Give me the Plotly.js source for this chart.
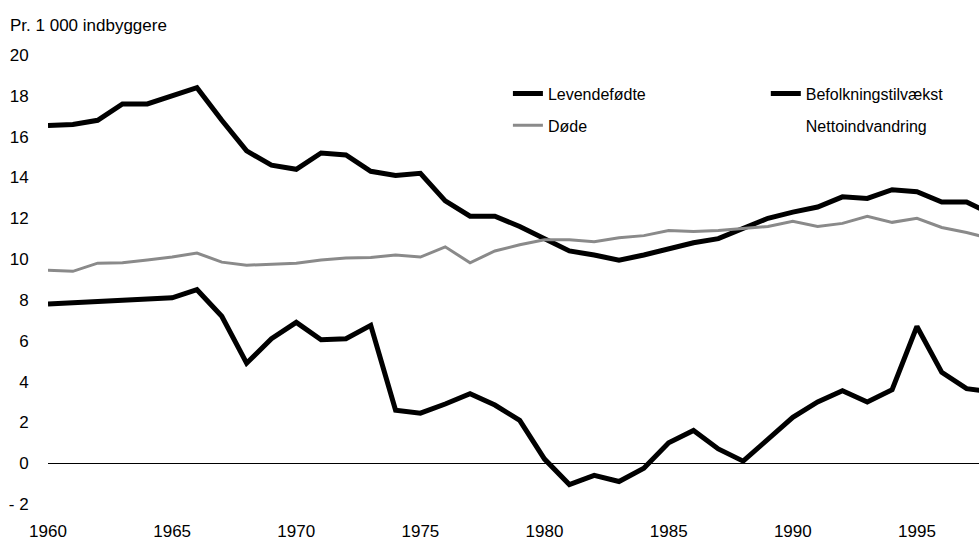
<!DOCTYPE html>
<html>
<head>
<meta charset="utf-8">
<script src="https://cdn.plot.ly/plotly-3.0.1.min.js"></script>
<style>
html,body{margin:0;padding:0;background:#fff;}
#chart{width:979px;height:542px;}
</style>
</head>
<body>
<div id="chart"></div>
<script>
const years = [1960,1961,1962,1963,1964,1965,1966,1967,1968,1969,1970,1971,1972,1973,1974,1975,1976,1977,1978,1979,1980,1981,1982,1983,1984,1985,1986,1987,1988,1989,1990,1991,1992,1993,1994,1995,1996,1997,1998];
const levendefodte = [16.55,16.6,16.8,17.6,17.6,18.0,18.4,16.8,15.3,14.6,14.4,15.2,15.1,14.3,14.1,14.2,12.85,12.1,12.1,11.6,11.0,10.4,10.2,9.95,10.2,10.5,10.8,11.0,11.5,12.0,12.3,12.55,13.05,12.97,13.4,13.3,12.8,12.8,12.2];
const dode = [9.45,9.4,9.8,9.82,9.95,10.1,10.3,9.85,9.7,9.75,9.8,9.95,10.05,10.08,10.2,10.1,10.6,9.82,10.4,10.7,10.95,10.95,10.85,11.05,11.15,11.4,11.35,11.4,11.5,11.6,11.85,11.6,11.75,12.1,11.8,12.0,11.55,11.3,11.0];
const befolkningstilvaekst = [7.8,7.85,7.9,8.0,8.05,8.1,8.5,7.2,4.9,6.1,6.9,6.05,6.1,6.75,2.6,2.45,2.9,3.4,2.85,2.1,0.2,-1.05,-0.6,-0.9,-0.25,1.0,1.6,0.7,0.1,1.2,2.25,3.0,3.55,3.0,3.6,6.7,4.45,3.65,3.5];
// Nettoindvandring: no line is visible in the picture, only its legend entry
const nettoindvandringYears = [1960];
const nettoindvandring = [null];
const seriesNames = ["Levendefødte","Døde","Befolkningstilvækst","Nettoindvandring"];
const xTicks = [1960,1965,1970,1975,1980,1985,1990,1995];
const yTicks = [-2,0,2,4,6,8,10,12,14,16,18,20];

const FONT = "Liberation Sans, Arial, Helvetica, sans-serif";

const traces = [
  {x: years, y: levendefodte, name: seriesNames[0], type: "scatter", mode: "lines",
   line: {color: "#000", width: 5}, legend: "legend", legendgroup: "a"},
  {x: years, y: dode, name: seriesNames[1], type: "scatter", mode: "lines",
   line: {color: "#8a8a8a", width: 3}, legend: "legend", legendgroup: "b"},
  {x: years, y: befolkningstilvaekst, name: seriesNames[2], type: "scatter", mode: "lines",
   line: {color: "#000", width: 5}, legend: "legend2", legendgroup: "c"},
  {x: nettoindvandringYears, y: nettoindvandring, name: seriesNames[3], type: "scatter", mode: "lines",
   line: {color: "rgba(255,255,255,0)", width: 3}, legend: "legend2", legendgroup: "d", showlegend: true}
];

const layout = {
  width: 979, height: 542,
  margin: {l: 48, r: 0, t: 55, b: 38, pad: 0},
  paper_bgcolor: "#fff", plot_bgcolor: "#fff",
  font: {family: FONT, size: 16, color: "#000"},
  xaxis: {
    range: [1960, 1997.5], tickvals: xTicks, ticktext: xTicks.map(String),
    showgrid: false, zeroline: false, showline: false,
    ticks: "outside", ticklen: 12, tickcolor: "rgba(0,0,0,0)",
    tickfont: {family: FONT, size: 17, color: "#000"}
  },
  yaxis: {
    range: [-2, 20], tickvals: yTicks, ticktext: yTicks.map(v => v < 0 ? "- " + Math.abs(v) : String(v)),
    showgrid: false, zeroline: true, zerolinecolor: "#000", zerolinewidth: 1, showline: false,
    ticks: "outside", ticklen: 15, tickcolor: "rgba(0,0,0,0)",
    tickfont: {family: FONT, size: 17, color: "#000"}
  },
  showlegend: true,
  legend: {x: 0.494, xanchor: "left", y: 0.952, yanchor: "top", bgcolor: "rgba(0,0,0,0)",
           font: {family: FONT, size: 16, color: "#000"}, tracegroupgap: 8, traceorder: "grouped"},
  legend2: {x: 0.771, xanchor: "left", y: 0.952, yanchor: "top", bgcolor: "rgba(0,0,0,0)",
           font: {family: FONT, size: 16, color: "#000"}, tracegroupgap: 8, traceorder: "grouped"},
  annotations: [
    {text: "Pr. 1 000 indbyggere", xref: "paper", yref: "paper", x: -40/931, y: (504-25)/449,
     xanchor: "left", yanchor: "middle", showarrow: false, font: {family: FONT, size: 17, color: "#000"}}
  ]
};

Plotly.newPlot("chart", traces, layout, {staticPlot: true, displayModeBar: false});
</script>
</body>
</html>
